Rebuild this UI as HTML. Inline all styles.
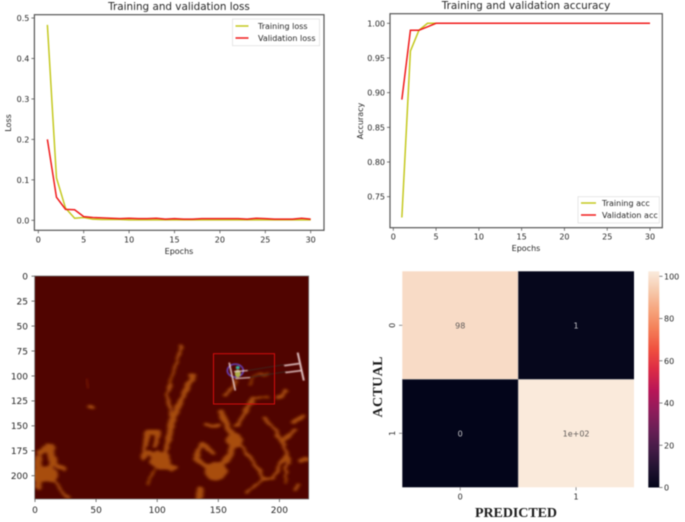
<!DOCTYPE html>
<html lang="en">
<head>
<meta charset="utf-8">
<title>Training results figure</title>
<style>
html,body{margin:0;padding:0;background:#fff;width:685px;height:522px;overflow:hidden}
svg{display:block;filter:blur(0.4px)}
text{font-family:"DejaVu Sans","Liberation Sans",sans-serif;fill:#262626}
</style>
</head>
<body>
<svg id="fig" xmlns="http://www.w3.org/2000/svg" width="685" height="522" viewBox="0 0 685 522">
  <defs>
    <filter id="soft" x="-10%" y="-10%" width="120%" height="120%">
      <feTurbulence type="fractalNoise" baseFrequency="0.14" numOctaves="2" seed="4" result="n"/>
      <feDisplacementMap in="SourceGraphic" in2="n" scale="5" xChannelSelector="R" yChannelSelector="G" result="d"/>
      <feGaussianBlur in="d" stdDeviation="1.35"/>
    </filter>
    <filter id="soft2" x="-10%" y="-10%" width="120%" height="120%"><feGaussianBlur stdDeviation="0.45"/></filter>
    <filter id="soft3" x="-20%" y="-20%" width="140%" height="140%"><feGaussianBlur stdDeviation="1.2"/></filter>
    <linearGradient id="rocket" x1="0" y1="1" x2="0" y2="0">
      <stop offset="0" stop-color="#03051a"/><stop offset="0.09" stop-color="#221331"/>
      <stop offset="0.18" stop-color="#451c47"/><stop offset="0.27" stop-color="#6a1f56"/>
      <stop offset="0.36" stop-color="#921c5b"/><stop offset="0.45" stop-color="#b91657"/>
      <stop offset="0.55" stop-color="#dd2c45"/><stop offset="0.64" stop-color="#f0513f"/>
      <stop offset="0.73" stop-color="#f47d57"/><stop offset="0.82" stop-color="#f6a47c"/>
      <stop offset="0.91" stop-color="#f6c9ac"/><stop offset="1" stop-color="#faebdd"/>
    </linearGradient>
    <clipPath id="imgclip"><rect x="0" y="0" width="224" height="224"/></clipPath>
  </defs>

  <g id="loss-chart">
    <text x="179" y="10" font-size="10.4" text-anchor="middle">Training and validation loss</text>
    <text x="179" y="254" font-size="8" text-anchor="middle">Epochs</text>
    <text transform="translate(11,123) rotate(-90)" font-size="8" text-anchor="middle">Loss</text>
    <g id="loss-plot"></g>
    <rect x="34.4" y="14.7" width="289.6" height="215.6" fill="none" stroke="#555" stroke-width="1.2"/>
    <g>
      <rect x="232.5" y="19" width="87" height="26.7" fill="#fff" stroke="#ddd" stroke-width="0.7"/>
      <line x1="235.5" x2="248.5" y1="26" y2="26" stroke="#c4c81e" stroke-width="1.5"/>
      <text x="258" y="29" font-size="8">Training loss</text>
      <line x1="235.5" x2="248.5" y1="38" y2="38" stroke="#f01a1a" stroke-width="1.5"/>
      <text x="258" y="41" font-size="8">Validation loss</text>
    </g>
  </g>

  <g id="acc-chart">
    <text x="526" y="9" font-size="10.4" text-anchor="middle">Training and validation accuracy</text>
    <text x="526" y="251" font-size="8" text-anchor="middle">Epochs</text>
    <text transform="translate(363,121) rotate(-90)" font-size="8" text-anchor="middle">Accuracy</text>
    <g id="acc-plot"></g>
    <rect x="390" y="13.7" width="272.3" height="214" fill="none" stroke="#555" stroke-width="1.2"/>
    <g>
      <rect x="578" y="196.7" width="81.3" height="26.3" fill="#fff" stroke="#ddd" stroke-width="0.7"/>
      <line x1="581" x2="596" y1="203" y2="203" stroke="#c4c81e" stroke-width="1.5"/>
      <text x="602" y="206" font-size="8">Training acc</text>
      <line x1="581" x2="596" y1="215" y2="215" stroke="#f01a1a" stroke-width="1.5"/>
      <text x="602" y="218" font-size="8">Validation acc</text>
    </g>
  </g>

  <g id="image-panel">
    <g transform="translate(34.7,276) scale(1.2232,0.9955)" clip-path="url(#imgclip)">
      <rect x="0" y="0" width="224" height="224" fill="#500400"/>
      <g filter="url(#soft)" fill="none" stroke="#a84e0c" stroke-linecap="round" stroke-linejoin="round">
        <path stroke-width="2.5" d="M120 71L115 90L110 108L108 125L112 140"/>
        <path stroke-width="5" d="M129 100L122 120L113 143L109 167L105 184"/>
        <path stroke-width="5" d="M92 157L101 157L98 170"/>
        <path stroke-width="4" d="M92 157L89 183"/>
        <circle cx="103" cy="185" r="9" fill="#a84e0c" stroke="none"/>
        <path stroke-width="6" d="M94 178L104 190L113 193"/>
        <path stroke-width="2" d="M98 194L92 210"/>
        <path stroke-width="5" d="M152 137L163 163L160 180L149 195"/>
        <path stroke-width="4.5" d="M137 168L131 182L142 192"/>
        <circle cx="148" cy="196" r="9" fill="#a84e0c" stroke="none"/>
        <circle cx="163" cy="165" r="7" fill="#a84e0c" stroke="none"/>
        <path stroke-width="4.5" d="M137 168L146 178"/>
        <path stroke-width="5.5" d="M135 214L134 224"/>
        <path stroke-width="4" d="M179 123L165 150"/>
        <path stroke-width="3.2" d="M165 165L179 187L187 204L195 203L206 177L198 157L188 142"/>
        <path stroke-width="4.5" d="M206 177L207 186"/>
        <path stroke-width="3.5" d="M204 165L212 155"/>
        <path stroke-width="4" d="M213 147L219 140"/>
        <path stroke-width="4.5" d="M200 122L205 116"/>
        <path stroke-width="2.5" d="M179 123L190 122"/>
        <path stroke-width="2.2" d="M173 217L187 204"/>
        <path stroke-width="2" d="M206 177L205 208"/>
        <path stroke-width="2.5" d="M156 120L165 105"/>
        <path stroke-width="1.8" d="M175 110L180 100L190 98"/>
        <path stroke-width="2.8" d="M140 150L150 150"/>
        <path stroke-width="3.5" d="M218 185L223 184"/>
        <path stroke-width="2.8" d="M212 215L216 210"/>
        <path stroke-width="3.5" d="M45 132L46 132"/>
        <path stroke-width="7" d="M5 176L12 172L15 185"/>
        <path stroke-width="4" d="M15 185L24 195"/>
        <path stroke-width="15" d="M4 199L12 199"/>
        <path stroke-width="6" d="M3 182L3 212"/>
        <path stroke-width="3" d="M12 203L28 223"/>
        <path stroke-width="4.5" d="M15 185L12 203"/>
        <path stroke-width="3.5" d="M153 140L160 152"/>
      </g>
      <path d="M42 103L44 113" stroke="#6a0a05" stroke-width="3" filter="url(#soft3)" fill="none"/>
      <g filter="url(#soft2)">
        <path d="M174 95L204 89M175 102L206 96" stroke="#3a2a22" stroke-width="0.8" fill="none"/>
        <circle cx="164" cy="95" r="6.5" fill="none" stroke="#6a48d8" stroke-width="1.2"/>
        <ellipse cx="166" cy="98" rx="2.4" ry="4" fill="#b0b04a"/>
        <circle cx="166" cy="92" r="1.6" fill="#38b8a8"/>
        <path d="M159 87L164 115M163 96L174 95M164 103L176 102" stroke="#ecd0d0" stroke-width="1.2" fill="none"/>
        <path d="M215 77L220 105M204 90L216 88M205 97L218 95" stroke="#ecd0d0" stroke-width="1.5" fill="none"/>
      </g>
    </g>
    <rect x="34.7" y="276" width="274" height="223" fill="none" stroke="#777" stroke-width="0.8"/>
    <rect x="213.5" y="353.7" width="61" height="50.3" fill="none" stroke="#d40d0d" stroke-width="1"/>
    <g id="image-axes"></g>
  </g>

  <g id="cm-chart">
    <g id="cm-cells"></g>
    <rect id="cbar" x="648.3" y="271.3" width="11" height="216.2" fill="url(#rocket)"/>
    <g id="cbar-axis"></g>
    <text transform="translate(382,387) rotate(-90)" font-size="14" font-weight="bold" text-anchor="middle" textLength="61" style="font-family:'Liberation Serif',serif;fill:#1c1c1c">ACTUAL</text>
    <text x="516" y="517" font-size="14" font-weight="bold" text-anchor="middle" textLength="82" style="font-family:'Liberation Serif',serif;fill:#1c1c1c">PREDICTED</text>
  </g>
</svg>

<script>
const epochs = [1,2,3,4,5,6,7,8,9,10,11,12,13,14,15,16,17,18,19,20,21,22,23,24,25,26,27,28,29,30];
const trainLoss = [0.483,0.105,0.03,0.005,0.007,0.003,0.002,0.002,0.002,0.001,0.001,0.001,0.001,0.001,0.001,0.001,0.001,0.001,0.001,0.001,0.001,0.001,0.001,0.001,0.001,0.001,0.001,0.001,0.001,0.001];
const valLoss = [0.2,0.057,0.027,0.026,0.009,0.007,0.006,0.005,0.004,0.005,0.004,0.004,0.005,0.003,0.004,0.003,0.003,0.004,0.004,0.004,0.004,0.004,0.003,0.005,0.004,0.003,0.003,0.003,0.005,0.003];
const trainAcc = [0.72,0.96,0.99,1,1,1,1,1,1,1,1,1,1,1,1,1,1,1,1,1,1,1,1,1,1,1,1,1,1,1];
const valAcc = [0.89,0.99,0.99,0.995,1,1,1,1,1,1,1,1,1,1,1,1,1,1,1,1,1,1,1,1,1,1,1,1,1,1];
const epochTicks = [0,5,10,15,20,25,30];
const lossTicks = [0,0.1,0.2,0.3,0.4,0.5];
const accTicks = [0.75,0.8,0.85,0.9,0.95,1];
const imageXTicks = [0,50,100,150,200];
const imageYTicks = [0,25,50,75,100,125,150,175,200];
const confusionValues = [[98,1],[0,102]];
const confusionCategories = ['0','1'];
const colorbarTicks = [0,20,40,60,80,100];
const colorMax = 102.3;
const rocketColors = ['#03051a','#221331','#451c47','#6a1f56','#921c5b','#b91657','#dd2c45','#f0513f','#f47d57','#f6a47c','#f6c9ac','#faebdd'];

const NS = 'http://www.w3.org/2000/svg';
function make(parent, tag, attrs, txt) {
  const el = document.createElementNS(NS, tag);
  for (const k in attrs) el.setAttribute(k, attrs[k]);
  if (txt !== undefined) el.textContent = txt;
  parent.appendChild(el);
  return el;
}

function linear(d0, d1, r0, r1) {
  return function (v) { return r0 + (v - d0) * (r1 - r0) / (d1 - d0); };
}

const lossX = linear(0, 30, 38.3, 310.7);
const lossY = linear(0, 0.5, 220.3, 18);
const accX = linear(0, 30, 393.3, 650);
const accY = linear(0.75, 1, 196.7, 23.3);
const imgX = linear(0, 200, 35, 279.4);
const imgY = linear(0, 200, 276.2, 475.7);
const cmX = linear(0, 2, 402.3, 634);
const cmY = linear(0, 2, 271.3, 487.3);
const cbarY = linear(0, 100, 487.5, 276.3);

function lineChart(group, xs, ysA, ysB, sx, sy, xTicks, yTicks, yFmt, yBase, xLeft, nameA, nameB) {
  xTicks.forEach(function (t) {
    const tick = make(group, 'line', {x1: sx(t), x2: sx(t), y1: yBase, y2: yBase + 3, stroke: '#555', 'stroke-width': 0.8});
    
    
    const lab = make(group, 'text', {x: sx(t), y: yBase + 12, 'font-size': 8, 'text-anchor': 'middle'}, String(t));
    
    
  });
  yTicks.forEach(function (t) {
    const tick = make(group, 'line', {x1: xLeft - 3, x2: xLeft, y1: sy(t), y2: sy(t), stroke: '#555', 'stroke-width': 0.8});
    
    
    const lab = make(group, 'text', {x: xLeft - 5, y: sy(t) + 3, 'font-size': 8, 'text-anchor': 'end'}, yFmt(t));
    
    
  });
  const ptsA = xs.map(function (x, i) { return sx(x) + ',' + sy(ysA[i]); }).join(' ');
  const ptsB = xs.map(function (x, i) { return sx(x) + ',' + sy(ysB[i]); }).join(' ');
  const a = make(group, 'polyline', {points: ptsA, fill: 'none', stroke: '#c4c81e', 'stroke-width': 1.5});
  
  
  const b = make(group, 'polyline', {points: ptsB, fill: 'none', stroke: '#f01a1a', 'stroke-width': 1.5});
  
  
}

lineChart(document.getElementById('loss-plot'), epochs, trainLoss, valLoss, lossX, lossY, epochTicks, lossTicks,
  function (t) { return t.toFixed(1); }, 230.3, 34.4, 'training-loss-line', 'validation-loss-line');
lineChart(document.getElementById('acc-plot'), epochs, trainAcc, valAcc, accX, accY, epochTicks, accTicks,
  function (t) { return t.toFixed(2); }, 227.7, 390, 'training-acc-line', 'validation-acc-line');

const imgAxes = document.getElementById('image-axes');
imageXTicks.forEach(function (t) {
  const tick = make(imgAxes, 'line', {x1: imgX(t), x2: imgX(t), y1: 499, y2: 502, stroke: '#555', 'stroke-width': 0.8});
  
  
  const lab = make(imgAxes, 'text', {x: imgX(t), y: 513, 'font-size': 9, 'text-anchor': 'middle'}, String(t));
  
  
});
imageYTicks.forEach(function (t) {
  const tick = make(imgAxes, 'line', {x1: 31.5, x2: 34.7, y1: imgY(t), y2: imgY(t), stroke: '#555', 'stroke-width': 0.8});
  
  
  const lab = make(imgAxes, 'text', {x: 28, y: imgY(t) + 3.3, 'font-size': 9, 'text-anchor': 'end'}, String(t));
  
  
});

function hex2rgb(h) {
  return [parseInt(h.slice(1, 3), 16), parseInt(h.slice(3, 5), 16), parseInt(h.slice(5, 7), 16)];
}
function rocket(v) {
  const t = Math.max(0, Math.min(1, v / colorMax)) * (rocketColors.length - 1);
  const i = Math.min(Math.floor(t), rocketColors.length - 2);
  const f = t - i;
  const a = hex2rgb(rocketColors[i]);
  const b = hex2rgb(rocketColors[i + 1]);
  return 'rgb(' + a.map(function (c, k) { return Math.round(c + (b[k] - c) * f); }).join(',') + ')';
}
function annotate(v) {
  if (v >= 100) return v.toExponential(0).replace('e+', 'e+0');
  return String(v);
}

const cmG = document.getElementById('cm-cells');
confusionValues.forEach(function (row, r) {
  row.forEach(function (v, c) {
    const cell = make(cmG, 'rect', {x: cmX(c), y: cmY(r), width: cmX(c + 1) - cmX(c), height: cmY(r + 1) - cmY(r), fill: rocket(v)});
    
    
  });
});
confusionValues.forEach(function (row, r) {
  row.forEach(function (v, c) {
    const lab = make(cmG, 'text', {x: cmX(c + 0.5), y: cmY(r + 0.5) + 3, 'font-size': 8, 'text-anchor': 'middle', style: 'fill:' + (v > 50 ? '#5f5a58' : '#c4c4c8')}, annotate(v));
    
    
  });
});
confusionCategories.forEach(function (name, i) {
  const xt = make(cmG, 'line', {x1: cmX(i + 0.5), x2: cmX(i + 0.5), y1: 487.3, y2: 490.5, stroke: '#777', 'stroke-width': 0.8});
  
  
  const xl = make(cmG, 'text', {x: cmX(i + 0.5), y: 499.5, 'font-size': 8, 'text-anchor': 'middle'}, name);
  
  
  const yt = make(cmG, 'line', {x1: 399, x2: 402.3, y1: cmY(i + 0.5), y2: cmY(i + 0.5), stroke: '#777', 'stroke-width': 0.8});
  
  
  const yl = make(cmG, 'text', {transform: 'translate(395,' + cmY(i + 0.5) + ') rotate(-90)', 'font-size': 8, 'text-anchor': 'middle'}, name);
  
  
});
const divH = make(cmG, 'line', {x1: 402.3, x2: 634, y1: cmY(1), y2: cmY(1), stroke: '#8a8a8f', 'stroke-width': 0.7});


const divV = make(cmG, 'line', {x1: cmX(1), x2: cmX(1), y1: 271.3, y2: 487.3, stroke: '#8a8a8f', 'stroke-width': 0.7});



const cbarAxis = document.getElementById('cbar-axis');
colorbarTicks.forEach(function (t) {
  const tick = make(cbarAxis, 'line', {x1: 659.3, x2: 662.5, y1: cbarY(t), y2: cbarY(t), stroke: '#666', 'stroke-width': 0.8});
  
  
  const lab = make(cbarAxis, 'text', {x: 664, y: cbarY(t) + 3, 'font-size': 8}, String(t));
  
  
});
</script>
</body>
</html>
